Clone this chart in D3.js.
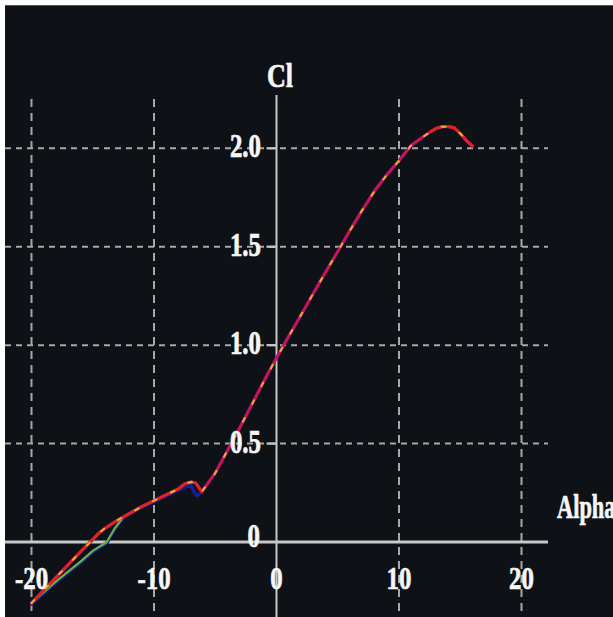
<!DOCTYPE html>
<html><head><meta charset="utf-8">
<script src="https://cdn.jsdelivr.net/npm/d3@7"></script>
<style>html,body{margin:0;padding:0;background:#fff;}svg{display:block;}</style>
</head><body>
<script>
// ---- data ----
const xTicks = [-20, -10, 0, 10, 20];
const xTickLabels = ["-20", "-10", "0", "10", "20"];
const yTicks = [0, 0.5, 1.0, 1.5, 2.0];
const yTickLabels = ["0", "0.5", "1.0", "1.5", "2.0"];
const xLabel = "Alpha";
const yLabel = "Cl";

// main polar (Cl vs Alpha)
const mainAlpha = [-20,-19,-18,-17,-16,-15.2,-14.5,-14,-13,-12,-11,-10,-9,-8,-7.5,-7,-6.6,-6.1,-5,-4,-3,-2,-1,0,1,2,3,4,5,6,7,8,9,10,10.8,11,12,12.6,13,13.5,14,14.5,15,15.5,16];
const mainCl    = [-0.31,-0.245,-0.18,-0.115,-0.05,0,0.045,0.07,0.11,0.145,0.18,0.21,0.24,0.27,0.295,0.305,0.30,0.255,0.35,0.465,0.58,0.70,0.82,0.936,1.045,1.153,1.262,1.37,1.476,1.583,1.686,1.783,1.865,1.937,2.0,2.015,2.06,2.085,2.10,2.11,2.11,2.105,2.075,2.04,2.01];

// low-alpha branch of second run (green)
const greenAlpha = [-20,-18,-16,-15,-13.85,-13.2,-12.5];
const greenCl    = [-0.31,-0.2,-0.1,-0.045,0,0.07,0.126];

// third run (blue) – mostly hidden beneath the others
const blueAlpha = [-20,-18,-16,-15,-13.85,-13.2,-12.5,-11,-10,-9,-8,-7,-6.7,-6.5,-6.2];
const blueCl    = [-0.315,-0.205,-0.105,-0.05,-0.004,0.065,0.124,0.18,0.205,0.235,0.265,0.29,0.25,0.235,0.25];

// stall-region overlay (red)
const redLowAlpha = [-20,-19,-18,-17,-16,-15.2,-14.5,-14,-13,-12,-11,-10,-9,-8,-7.5,-7,-6.6,-6.1];
const redLowCl    = [-0.31,-0.245,-0.18,-0.115,-0.05,0,0.045,0.07,0.11,0.145,0.18,0.21,0.24,0.27,0.295,0.305,0.30,0.255];
const redHighAlpha = [12.6,13,13.5,14,14.5,15,15.5,16];
const redHighCl    = [2.085,2.10,2.11,2.11,2.105,2.075,2.04,2.01];

// ---- drawing ----
const W = 613, H = 617;
const svg = d3.select("body").append("svg").attr("width", W).attr("height", H);
svg.append("rect").attr("x",0).attr("y",0).attr("width",W).attr("height",H).attr("fill","#ffffff");
svg.append("rect").attr("x",5).attr("y",5).attr("width",W-5).attr("height",H-5).attr("fill","#0e1115");
svg.append("line").attr("x1",5).attr("x2",W).attr("y1",5.5).attr("y2",5.5).attr("stroke","#555").attr("stroke-width",1);

const x = d3.scaleLinear().domain([-20, 20]).range([31.5, 521.5]);
const y = d3.scaleLinear().domain([0, 2]).range([542, 148.3]);

const grid = svg.append("g");
// vertical dashed grid
grid.selectAll("line.vg").data(xTicks.filter(d => d !== 0)).join("line")
  .attr("x1", d => x(d)).attr("x2", d => x(d)).attr("y1", 99).attr("y2", H)
  .attr("stroke", "#a8a8a8").attr("stroke-width", 2).attr("stroke-dasharray", "8,6");
// horizontal dashed grid
grid.selectAll("line.hg").data(yTicks.filter(d => d !== 0)).join("line")
  .attr("x1", 5).attr("x2", 548).attr("y1", d => y(d)).attr("y2", d => y(d))
  .attr("stroke", "#a8a8a8").attr("stroke-width", 2).attr("stroke-dasharray", "6,5");

// axes lines
svg.append("line").attr("x1", 5).attr("x2", 548).attr("y1", y(0)).attr("y2", y(0))
  .attr("stroke", "#c8c8c8").attr("stroke-width", 2.8);
svg.append("line").attr("x1", x(0)).attr("x2", x(0)).attr("y1", 95).attr("y2", H)
  .attr("stroke", "#c8c8c8").attr("stroke-width", 2);
// y tick marks
svg.selectAll("line.yt").data(yTicks.filter(d => d !== 0)).join("line")
  .attr("x1", x(0) - 10).attr("x2", x(0)).attr("y1", d => y(d)).attr("y2", d => y(d))
  .attr("stroke", "#c8c8c8").attr("stroke-width", 2.2);

// curves
const line = (xs, ys) => d3.line().x((d,i) => x(xs[i])).y((d,i) => y(ys[i]))(xs);
const plot = svg.append("g").attr("fill", "none").attr("stroke-linejoin", "round").attr("stroke-linecap", "round");
plot.append("path").attr("d", line(blueAlpha, blueCl)).attr("stroke", "#16208c").attr("stroke-width", 3.6);
plot.append("path").attr("d", line(greenAlpha, greenCl)).attr("stroke", "#6cb048").attr("stroke-width", 2.2);
plot.append("path").attr("d", line(mainAlpha, mainCl)).attr("stroke", "#8a1aa0").attr("stroke-width", 3.2);
plot.append("path").attr("d", line(mainAlpha, mainCl)).attr("stroke", "#cc1448").attr("stroke-width", 2.4);
plot.append("path").attr("d", line(redLowAlpha, redLowCl)).attr("stroke", "#e4221c").attr("stroke-width", 2.8);
plot.append("path").attr("d", line(redHighAlpha, redHighCl)).attr("stroke", "#e4221c").attr("stroke-width", 2.8);
plot.append("path").attr("d", line(mainAlpha, mainCl)).attr("stroke", "#e0b030").attr("stroke-width", 2)
  .attr("stroke-dasharray", "4,16");

// text
const font = "'Liberation Serif','Times New Roman',serif";
function label(txt, tx, ty, anchor, size, sx, sy) {
  svg.append("text").attr("transform", `translate(${tx},${ty}) scale(${sx},${sy})`)
    .attr("text-anchor", anchor).attr("font-family", font).attr("font-weight", "bold")
    .attr("font-size", size).attr("fill", "#f6f6f6")
    .attr("stroke", "#f6f6f6").attr("stroke-width", 0.6).text(txt);
}
xTicks.forEach((d, i) => label(xTickLabels[i], x(d), 589, "middle", 27, 0.92, 1.2));
yTicks.forEach((d, i) => {
  if (d === 0) label(yTickLabels[i], 260, y(d) + 5, "end", 27, 0.92, 1.25);
  else label(yTickLabels[i], 261, y(d) + 9, "end", 27, 0.92, 1.25);
});
label(yLabel, 280, 87, "middle", 29, 0.9, 1.15);
label(xLabel, 557, 518, "start", 28, 0.8, 1.2);
</script>
</body></html>
